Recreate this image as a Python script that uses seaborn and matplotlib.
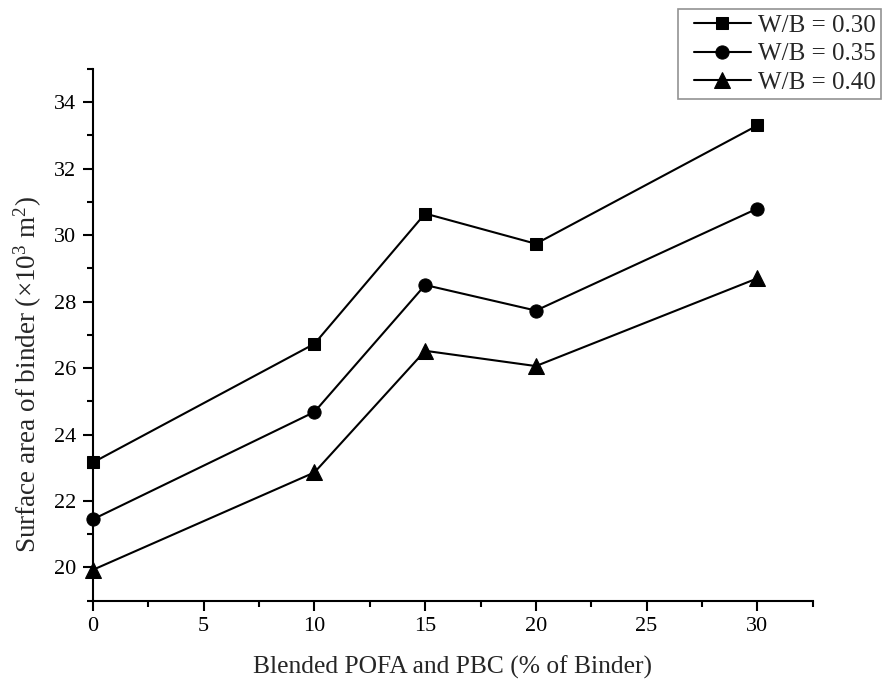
import matplotlib
matplotlib.use("Agg")
import matplotlib.pyplot as plt
from matplotlib.lines import Line2D
from matplotlib.legend_handler import HandlerLine2D
from matplotlib.ticker import MultipleLocator
import pandas as pd
import seaborn as sns

# Binder replacement levels (% of binder)
replacement = [0, 10, 15, 20, 30]

# Surface area of binder (x10^3 m^2) for each water/binder ratio
wb_030 = [23.16, 26.73, 30.65, 29.74, 33.30]
wb_035 = [21.45, 24.68, 28.50, 27.73, 30.80]
wb_040 = [19.93, 22.86, 26.52, 26.06, 28.70]

series_labels = ["W/B = 0.30", "W/B = 0.35", "W/B = 0.40"]

frames = []
for label, vals in zip(series_labels, [wb_030, wb_035, wb_040]):
    frames.append(pd.DataFrame({"x": replacement, "y": vals, "series": label}))
df = pd.concat(frames, ignore_index=True)

sns.set_style("ticks")
plt.rcParams["font.family"] = ["Liberation Serif", "DejaVu Serif"]
plt.rcParams["mathtext.fontset"] = "custom"
plt.rcParams["mathtext.rm"] = "Liberation Serif"
plt.rcParams["mathtext.it"] = "Liberation Serif:italic"

fig = plt.figure(figsize=(8.83, 6.83), dpi=100)
ax = fig.add_axes([0.1053, 0.1205, 0.8151, 0.7785])

marker_styles = {
    "W/B = 0.30": ("s", 8),
    "W/B = 0.35": ("o", 9.5),
    "W/B = 0.40": ("^", 11),
}

for label in series_labels:
    sub = df[df["series"] == label]
    mk, ms = marker_styles[label]
    sns.lineplot(data=sub, x="x", y="y", ax=ax, color="black", linewidth=1.5,
                 marker=mk, markersize=ms, markeredgecolor="black",
                 markerfacecolor="black", label=label, clip_on=False, zorder=3)

ax.set_xlim(0, 32.5)
ax.set_ylim(19, 35)
ax.xaxis.set_major_locator(MultipleLocator(5))
ax.xaxis.set_minor_locator(MultipleLocator(2.5))
ax.yaxis.set_major_locator(MultipleLocator(2))
ax.yaxis.set_minor_locator(MultipleLocator(1))

for side in ["top", "right"]:
    ax.spines[side].set_visible(False)
for side in ["left", "bottom"]:
    ax.spines[side].set_linewidth(1.5)
    ax.spines[side].set_color("black")

ax.tick_params(which="major", direction="out", length=7, width=1.5,
               labelsize=16, colors="black", pad=5)
ax.tick_params(which="minor", direction="out", length=4, width=1.5, colors="black")

ax.set_xlabel("Blended POFA and PBC (% of Binder)", fontsize=18.4, labelpad=14)
ax.set_ylabel(r"Surface area of binder ($\times$10$^3$ m$^2$)", fontsize=19.5)
ax.yaxis.set_label_coords(-0.068, 0.426)

# Legend handles are shifted right inside the frame for a wider left margin
leg = ax.legend(loc="upper right", bbox_to_anchor=(0.9977, 0.9868),
                bbox_transform=fig.transFigure, fontsize=18, frameon=True,
                fancybox=False, handlelength=2.72, handletextpad=0.3,
                labelspacing=0.25, borderpad=0.2, borderaxespad=0,
                handler_map={Line2D: HandlerLine2D(xpad=0.44)})
leg.get_frame().set_edgecolor("#777777")
leg.get_frame().set_linewidth(1.2)

fig.savefig("out.png", dpi=100)
